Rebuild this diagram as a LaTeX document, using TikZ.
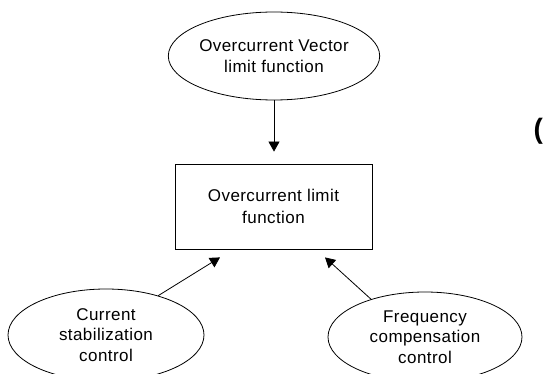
\documentclass[tikz,border=0pt]{standalone}
\usepackage{fontspec}
\setmainfont[LetterSpace=2.5]{Liberation Sans}
\usepackage{tikz}
\usetikzlibrary{
  shapes.geometric,
  arrows.meta,
  positioning
}
\tikzset{
  funcell/.style = {
    ellipse, draw=black, line width=0.8pt,
    minimum width=#1, minimum height=88pt, inner sep=0pt,
    align=center, font=\fontsize{17}{20.5}\selectfont
  },
  funcell/.default = 200pt,
  procbox/.style = {
    rectangle, draw=black, line width=0.8pt,
    minimum width=197pt, minimum height=85pt, inner sep=0pt,
    align=center, font=\fontsize{17}{22}\selectfont
  },
  arr/.style = {-{Triangle[length=10pt, width=11pt]}, draw=black, line width=0.8pt},
}

\begin{document}
\begin{tikzpicture}[x=1pt, y=-1pt]
  \useasboundingbox (0,0) rectangle (543,374);

  \node[procbox, text depth=-4pt] (olf) at (273.5,206.5)
    {Overcurrent limit\\function};

  % Inputs (top, bottom left, bottom right)
  \node[funcell=206pt, text depth=-4pt] (ovf) at (274,56)
    {Overcurrent Vector\\limit function};
  \node[funcell=196pt, minimum height=92pt] (csc) at (106,335)
    {Current\\stabilization\\control};
  \node[funcell=194pt, minimum height=90pt] (fcc) at (425,337)
    {Frequency\\compensation\\control};

  \node[font=\fontsize{28}{28}\selectfont\bfseries, anchor=west,
        inner sep=0pt] (paren) at (533.5,131.5) {(};

  \coordinate[below left=8pt and 53.5pt of olf.south] (inL);
  \coordinate[below right=8pt and 51.5pt of olf.south] (inR);

  % Arrows
  \draw[arr, shorten >=12pt] (ovf.south) -- (ovf.south |- olf.north);
  \draw[arr] (csc.37) -- (inL);
  \draw[arr] (fcc.145) -- (inR);

\end{tikzpicture}
\end{document}
